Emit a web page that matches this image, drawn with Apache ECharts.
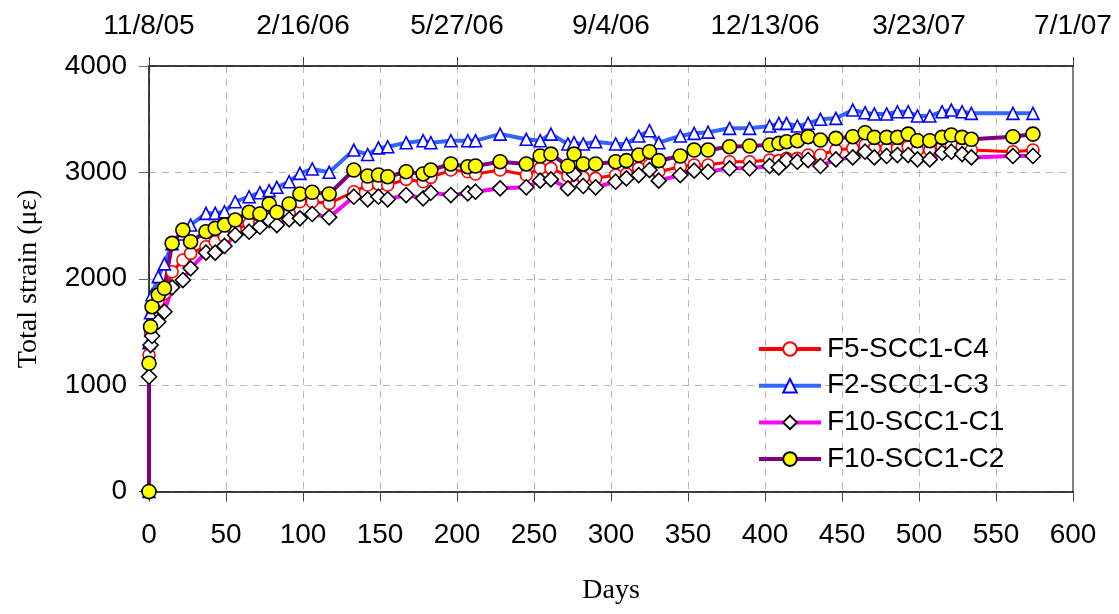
<!DOCTYPE html>
<html><head><meta charset="utf-8">
<script src="https://cdn.jsdelivr.net/npm/echarts@6/dist/echarts.min.js"></script>
<style>html,body{margin:0;padding:0;background:#fff}#c{width:1119px;height:614px}</style>
</head><body><div id="c"></div>
<script>
const days = [0,0,1,2,6,10,15,22,27,37,43,49,56,65,72,78,83,91,98,106,117,133,142,149,155,167,178,183,196,207,212,228,245,254,261,272,276,282,290,303,310,318,325,331,345,354,363,377,390,403,409,414,421,428,436,446,457,465,471,479,486,493,499,507,515,521,528,534,561,574];
const f5scc1c4 = [0,1283,1500,1650,1790,1860,2066,2176,2239,2301, 2348,2395,2460,2521,2521,2583,2552,2615,2724,2724, 2709,2818,2881,2890,2881,2934,2912,2953,3022,3006, 2985,3022,2975,3038,3038,2966,3000,2953,2944,2975, 2985,3038,3069,3006,3053,3069,3069,3100,3100,3116, 3110,3132,3132,3163,3163,3210,3226,3257,3226,3226, 3226,3241,3210,3210,3241,3257,3241,3210,3194,3210];
const f2scc1c3 = [0,1400,1680,1850,2020,2140,2330,2420,2505,2615, 2615,2630,2724,2771,2809,2828,2860,2912,2991,3032, 3001,3210,3168,3230,3241,3279,3298,3279,3298,3298, 3298,3360,3311,3298,3360,3267,3279,3267,3288,3267, 3267,3342,3392,3279,3342,3367,3378,3414,3414,3436, 3461,3461,3436,3461,3499,3508,3586,3561,3549,3549, 3570,3570,3530,3530,3570,3586,3570,3555,3555,3555];
const f10scc1c1 = [0,1079,1377,1462,1596,1690,1919,1988,2098,2245, 2245,2308,2411,2442,2489,2552,2505,2559,2568,2609, 2577,2771,2747,2771,2747,2787,2756,2809,2787,2803, 2818,2850,2860,2922,2934,2850,2985,2872,2860,2912, 2944,2975,3022,2922,2975,3016,3006,3038,3038,3060, 3047,3116,3100,3116,3060,3122,3141,3194,3141,3154, 3163,3163,3122,3122,3185,3194,3172,3141,3154,3154];
const f10scc1c2 = [0,1205,1549,1737,1847,1910,2333,2458,2348,2442, 2474,2505,2552,2625,2609,2703,2625,2703,2797,2813, 2797,3022,2966,2975,2959,3006,2985,3022,3079,3053, 3060,3100,3079,3154,3172,3060,3172,3079,3079,3100, 3110,3163,3194,3110,3154,3210,3210,3241,3248,3257, 3273,3288,3298,3335,3304,3320,3335,3373,3329,3329, 3329,3360,3298,3298,3329,3351,3329,3311,3335,3360];
const topDateLabels = ['11/8/05','2/16/06','5/27/06','9/4/06','12/13/06','3/23/07','7/1/07'];
const seriesNames = ['F5-SCC1-C4','F2-SCC1-C3','F10-SCC1-C1','F10-SCC1-C2'];

const SANS = '"Liberation Sans", Arial, sans-serif';
const SERIF = '"Liberation Serif", "Times New Roman", serif';
const pair = arr => days.map((d, i) => [d, arr[i]]);
const gridDash = {show: true, lineStyle: {color: '#b8b8b8', type: [7, 6], width: 1}};

const chart = echarts.init(document.getElementById('c'), null, {renderer: 'canvas'});
chart.setOption({
  animation: false,
  backgroundColor: '#fff',
  grid: {left: 149, right: 46, top: 66, bottom: 122.5, containLabel: false},
  legend: {
    orient: 'vertical', left: 752, top: 330, itemWidth: 62, itemHeight: 17, itemGap: 8.7,
    lineStyle: {width: 4},
    textStyle: {fontFamily: SANS, fontSize: 28, color: '#000', lineHeight: 28, padding: [0,0,0,1]},
    data: seriesNames
  },
  xAxis: [
    {type: 'value', position: 'bottom', min: 0, max: 600, interval: 50,
     name: 'Days', nameLocation: 'middle', nameGap: 85,
     nameTextStyle: {fontFamily: SERIF, fontSize: 28, color: '#000'},
     axisLine: {show: true, onZero: false, lineStyle: {color: '#000', width: 1.5}},
     axisTick: {show: true, inside: false, length: 10, lineStyle: {color: '#444', width: 1}},
     axisLabel: {fontFamily: SANS, fontSize: 28, color: '#000', margin: 30, formatter: v => String(v)},
     splitLine: gridDash},
    {type: 'value', position: 'top', min: 0, max: 600, interval: 100,
     axisLine: {show: true, onZero: false, lineStyle: {color: '#000', width: 1.5}},
     axisTick: {show: true, inside: false, length: 9, lineStyle: {color: '#444', width: 1}},
     axisLabel: {fontFamily: SANS, fontSize: 28, color: '#000', margin: 26,
       formatter: v => topDateLabels[Math.round(v / 100)]},
     splitLine: {show: false}}
  ],
  yAxis: [
    {type: 'value', position: 'left', min: 0, max: 4000, interval: 1000,
     name: 'Total strain (με)', nameLocation: 'middle', nameGap: 106, nameRotate: 90,
     nameTextStyle: {fontFamily: SERIF, fontSize: 28, color: '#000'},
     axisLine: {show: true, onZero: false, lineStyle: {color: '#000', width: 1.5}},
     axisTick: {show: true, inside: false, length: 10, lineStyle: {color: '#666', width: 1}},
     axisLabel: {fontFamily: SANS, fontSize: 28, color: '#000', margin: 22, formatter: v => String(v)},
     splitLine: gridDash},
    {type: 'value', position: 'right', min: 0, max: 4000, interval: 1000,
     axisLine: {show: true, onZero: false, lineStyle: {color: '#808080', width: 2}},
     axisTick: {show: false}, axisLabel: {show: false}, splitLine: {show: false}}
  ],
  series: [
    {name: seriesNames[0], type: 'line', data: pair(f5scc1c4), symbol: 'circle', symbolSize: 12, showAllSymbol: true,
     lineStyle: {color: '#ff0000', width: 3}, itemStyle: {color: '#ffffff', borderColor: '#ff0000', borderWidth: 1.6}},
    {name: seriesNames[1], type: 'line', data: pair(f2scc1c3), symbol: 'triangle', symbolSize: 12, showAllSymbol: true,
     lineStyle: {color: '#3366ff', width: 4}, itemStyle: {color: '#ffffff', borderColor: '#0000ff', borderWidth: 1.6}},
    {name: seriesNames[2], type: 'line', data: pair(f10scc1c1), symbol: 'diamond', symbolSize: 15, showAllSymbol: true,
     lineStyle: {color: '#ff00ff', width: 4}, itemStyle: {color: '#ffffff', borderColor: '#000000', borderWidth: 1.6}},
    {name: seriesNames[3], type: 'line', data: pair(f10scc1c2), symbol: 'circle', symbolSize: 14, showAllSymbol: true,
     lineStyle: {color: '#800080', width: 4}, itemStyle: {color: '#ffff00', borderColor: '#000000', borderWidth: 1.6}}
  ]
});
</script></body></html>
